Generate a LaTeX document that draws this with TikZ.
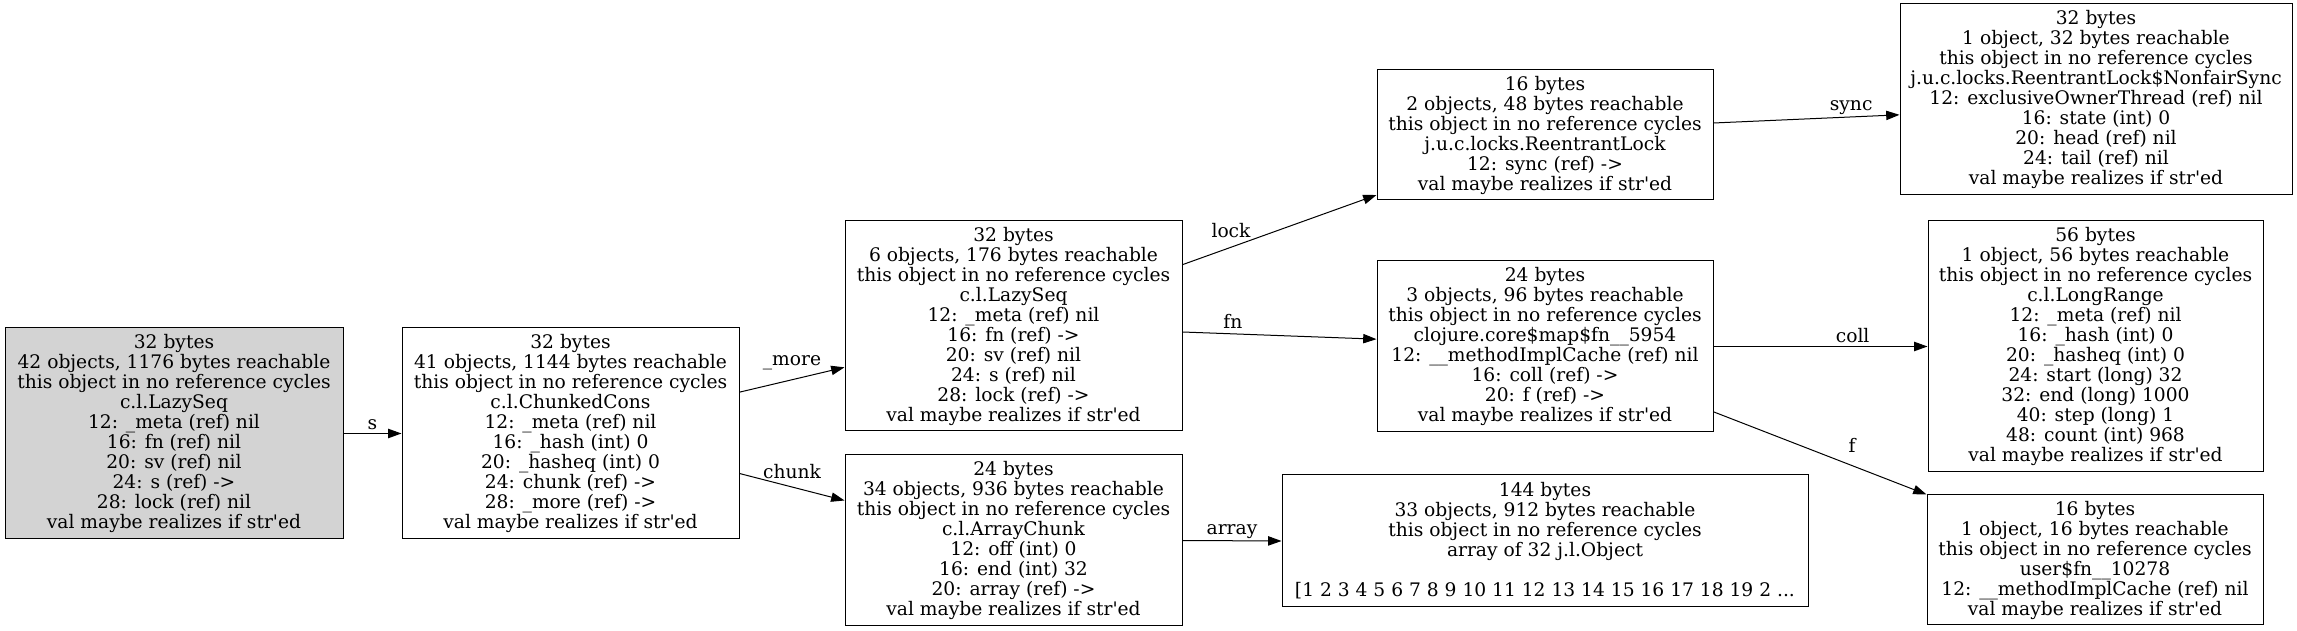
\documentclass[tikz,border=0pt]{standalone}
\usepackage{fontspec}
\setmainfont{DejaVu Serif}
\usetikzlibrary{arrows.meta}
\definecolor{rootgray}{HTML}{D3D3D3}
\newcommand\nocyc{this object in no reference cycles}
\newcommand\strd{val maybe realizes if str\textquotesingle ed}

\begin{document}
\begin{tikzpicture}[x=0.75pt, y=0.75pt,
	obj/.style={draw=black, line width=0.75pt, align=center, inner sep=0pt,
		minimum width=252pt, font=\fontsize{14}{15}\selectfont},
	ref/.style={-{Triangle[length=10pt,width=7pt]}, line width=0.75pt},
	lbl/.style={font=\fontsize{14}{15}\selectfont, anchor=base, inner sep=0pt}]
		\useasboundingbox (0,0) rectangle (2297,631);
		
		% first column
		\node[obj, fill=rootgray, minimum width=253.5pt, minimum height=158.25pt] (seqhead) at (174,197.5)
			{32 bytes\\42 objects, 1176 bytes reachable\\\nocyc\\c.l.LazySeq\\12: \_meta (ref) nil\\16: fn (ref) nil\\20: sv (ref) nil\\24: s (ref) ->\\28: lock (ref) nil\\\strd};
		\node[obj, minimum width=252.75pt, minimum height=158.25pt] (chunkcons) at (570.5,197.5)
			{32 bytes\\41 objects, 1144 bytes reachable\\\nocyc\\c.l.ChunkedCons\\12: \_meta (ref) nil\\16: \_hash (int) 0\\20: \_hasheq (int) 0\\24: chunk (ref) ->\\28: \_more (ref) ->\\\strd};
		
		% second column
		\node[obj, minimum width=252.75pt, minimum height=157.5pt] (lazyseq) at (1013.5,305)
			{32 bytes\\6 objects, 176 bytes reachable\\\nocyc\\c.l.LazySeq\\12: \_meta (ref) nil\\16: fn (ref) ->\\20: sv (ref) nil\\24: s (ref) nil\\28: lock (ref) ->\\\strd};
		\node[obj, minimum width=252.75pt, minimum height=128.25pt] (arraychunk) at (1013.5,90.5)
			{24 bytes\\34 objects, 936 bytes reachable\\\nocyc\\c.l.ArrayChunk\\12: off (int) 0\\16: end (int) 32\\20: array (ref) ->\\\strd};
		
		% third column
		\node[obj, minimum height=97.5pt] (rlock) at (1545,496)
			{16 bytes\\2 objects, 48 bytes reachable\\\nocyc\\j.u.c.locks.ReentrantLock\\12: sync (ref) ->\\\strd};
		\node[obj, minimum height=128.25pt] (mapfn) at (1545,284.5)
			{24 bytes\\3 objects, 96 bytes reachable\\\nocyc\\clojure.core\$map\$fn\_\_5954\\12: \_\_methodImplCache (ref) nil\\16: coll (ref) ->\\20: f (ref) ->\\\strd};
		\node[obj, minimum width=394.5pt, minimum height=99pt] (objarray) at (1545,90)
			{144 bytes\\33 objects, 912 bytes reachable\\\nocyc\\array of 32 j.l.Object\\\mbox{}\\{[}1 2 3 4 5 6 7 8 9 10 11 12 13 14 15 16 17 18 19 2 ...};
		
		% fourth column
		\node[obj, minimum width=294pt, minimum height=143.25pt] (nfsync) at (2096,531.5)
			{32 bytes\\1 object, 32 bytes reachable\\\nocyc\\j.u.c.locks.ReentrantLock\$NonfairSync\\12: exclusiveOwnerThread (ref) nil\\16: state (int) 0\\20: head (ref) nil\\24: tail (ref) nil\\\strd};
		\node[obj, minimum width=251.25pt, minimum height=188.25pt] (longrange) at (2095.5,284.5)
			{56 bytes\\1 object, 56 bytes reachable\\\nocyc\\c.l.LongRange\\12: \_meta (ref) nil\\16: \_hash (int) 0\\20: \_hasheq (int) 0\\24: start (long) 32\\32: end (long) 1000\\40: step (long) 1\\48: count (int) 968\\\strd};
		\node[obj, minimum height=97.5pt] (userfn) at (2095,71)
			{16 bytes\\1 object, 16 bytes reachable\\\nocyc\\user\$fn\_\_10278\\12: \_\_methodImplCache (ref) nil\\\strd};
		
		% references
		\draw[ref] (seqhead.east) -- (chunkcons.west) node[lbl, pos=0.5, yshift=3.2pt] {s};
		\draw[ref] ([yshift=31pt]chunkcons.east) -- ([yshift=-31pt]lazyseq.west) node[lbl, pos=0.5, yshift=10.5pt] {\_more};
		\draw[ref] ([yshift=-30pt]chunkcons.east) -- ([yshift=30pt]arraychunk.west) node[lbl, pos=0.5, yshift=6.7pt] {chunk};
		\draw[ref] ([yshift=46pt]lazyseq.east) -- ([yshift=-45pt]rlock.west) node[lbl, pos=0.25, yshift=7.5pt] {lock};
		\draw[ref] ([yshift=-4.5pt]lazyseq.east) -- ([yshift=5.5pt]mapfn.west) node[lbl, pos=0.26, yshift=3.75pt] {fn};
		\draw[ref] (arraychunk.east) -- (objarray.west) node[lbl, pos=0.5, yshift=4.5pt] {array};
		\draw[ref] ([yshift=9pt]rlock.east) -- ([yshift=-11.5pt]nfsync.west) node[lbl, pos=0.74, yshift=4.5pt] {sync};
		\draw[ref] (mapfn.east) -- (longrange.west) node[lbl, pos=0.65, yshift=3pt] {coll};
		\draw[ref] ([yshift=-49pt]mapfn.east) -- (userfn.north west) node[lbl, pos=0.65, yshift=10pt] {f};
		
\end{tikzpicture}
\end{document}
